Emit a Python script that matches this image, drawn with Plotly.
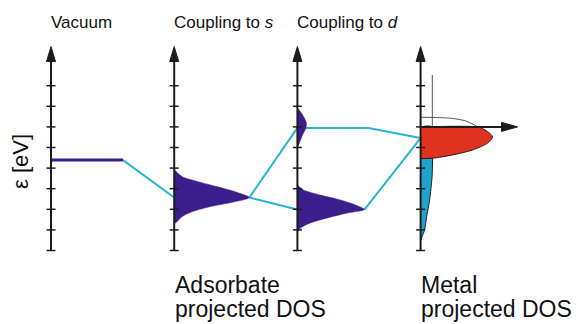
import numpy as np
import plotly.graph_objects as go

# ---------------- data (energies in tick units, DOS in panel-spacing units) ----------------
panel_labels = ["Vacuum", "Coupling to <i>s</i>", "Coupling to <i>d</i>"]
panel_x = [0, 1, 2, 3]
tick_energies = [0, 1, 2, 3, 4, 5, 6, 7, 8]
axis_top = 9.9

vacuum_level = 4.39
vacuum_line_len = 0.584

# adsorbate resonance after coupling to s (panel 1)
s_res_energy = [3.96, 3.81, 3.57, 3.33, 3.08, 2.84, 2.57, 2.35, 2.11, 1.87, 1.63, 1.38, 1.29]
s_res_dos = [0.0, 0.02, 0.07, 0.20, 0.36, 0.50, 0.61, 0.48, 0.28, 0.14, 0.06, 0.02, 0.0]

# coupling to d (panel 2): antibonding and bonding states
ab_energy = [6.92, 6.68, 6.43, 6.19, 5.95, 5.70, 5.46, 5.22, 4.98]
ab_dos = [0.0, 0.032, 0.057, 0.073, 0.069, 0.049, 0.032, 0.016, 0.0]
ab_level = 5.95
ab_line_kink = 0.576
b_energy = [3.18, 2.94, 2.69, 2.45, 2.21, 1.99, 1.82, 1.58, 1.34, 1.09, 0.90]
b_dos = [0.0, 0.049, 0.187, 0.349, 0.471, 0.544, 0.406, 0.244, 0.106, 0.024, 0.0]

# metal projected DOS (panel 3)
fermi_level = 6.0
fermi_arrow_len = 0.787
metal_link_energy = 5.46
d_band_energy = [6.47, 6.45, 6.41, 6.29, 6.09, 6.00, 5.90, 5.77, 5.52, 5.22, 4.88, 4.64, 4.48, 4.46]
d_band_dos = [0.0, 0.15, 0.26, 0.365, 0.438, 0.463, 0.511, 0.544, 0.584, 0.544, 0.422, 0.26, 0.097, 0.0]
s_band_energy = [8.52, 6.00, 4.47, 3.57, 2.45, 1.63, 1.00, 0.61, 0.48]
s_band_dos = [0.095, 0.095, 0.097, 0.093, 0.073, 0.049, 0.032, 0.008, 0.0]

# ---------------- styling / geometry ----------------
PX_U = 123.2   # pixels per panel unit
PX_E = 20.6    # pixels per energy unit
X0_PX = 51.0
Y0_PX = 250.5
W, H = 577, 324
x_range = [(0 - X0_PX) / PX_U, (W - X0_PX) / PX_U]
y_range = [(Y0_PX - H) / PX_E, Y0_PX / PX_E]

PURPLE = "#3b1d8c"
CYAN_LINE = "#27b4d4"
CYAN_FILL = "#1fa2cb"
RED = "#e0321f"
AX = "#1c1c1c"
FONT = "Liberation Sans, Arial, sans-serif"

fig = go.Figure()

# connection lines
s_tip_i = int(np.argmax(s_res_dos))
s_tip = (panel_x[1] + s_res_dos[s_tip_i], s_res_energy[s_tip_i])
b_tip_i = int(np.argmax(b_dos))
b_tip = (panel_x[2] + b_dos[b_tip_i], b_energy[b_tip_i])
segs = [
    [(panel_x[0] + vacuum_line_len, vacuum_level), (panel_x[1], s_res_energy[s_tip_i])],
    [s_tip, (panel_x[2], ab_level)],
    [s_tip, (panel_x[2], b_energy[b_tip_i])],
    [(panel_x[2], ab_level), (panel_x[2] + ab_line_kink, ab_level), (panel_x[3], metal_link_energy)],
    [b_tip, (panel_x[3], metal_link_energy)],
]
cx, cy = [], []
for s in segs:
    for p in s:
        cx.append(p[0]); cy.append(p[1])
    cx.append(None); cy.append(None)
fig.add_trace(go.Scatter(x=cx, y=cy, mode="lines", line=dict(color=CYAN_LINE, width=2),
                         hoverinfo="skip"))


def dos_fill(px, energy, dos, color, outline=None, ow=0):
    xs = [px + d for d in dos]
    ys = list(energy)
    if dos[0] != 0:
        xs = [px] + xs; ys = [energy[0]] + ys
    if dos[-1] != 0:
        xs = xs + [px]; ys = ys + [energy[-1]]
    fig.add_trace(go.Scatter(x=xs, y=ys, mode="lines", fill="toself", fillcolor=color,
                             line=dict(color=outline or color, width=ow if outline else 0.5,
                                       shape="spline", smoothing=0.8),
                             hoverinfo="skip"))


# adsorbate DOS
dos_fill(panel_x[1], s_res_energy, s_res_dos, PURPLE)
dos_fill(panel_x[2], ab_energy, ab_dos, PURPLE)
dos_fill(panel_x[2], b_energy, b_dos, PURPLE)

# metal s band: occupied part filled (below Fermi level)
sE = np.array(s_band_energy); sD = np.array(s_band_dos)
occ = sE <= fermi_level
dos_fill(panel_x[3], list(sE[occ]), list(sD[occ]), CYAN_FILL, outline="#222222", ow=1)
# unoccupied s band outline
unocc = sE >= fermi_level
fig.add_trace(go.Scatter(x=list(panel_x[3] + sD[unocc]), y=list(sE[unocc]), mode="lines",
                         line=dict(color="#555555", width=1), hoverinfo="skip"))

# metal d band
dE = np.array(d_band_energy); dD = np.array(d_band_dos)
docc = dE <= fermi_level
dos_fill(panel_x[3], [fermi_level] + list(dE[docc]), [0.0] + list(dD[docc]), RED,
         outline="#222222", ow=1)
dun = dE >= fermi_level
fig.add_trace(go.Scatter(x=list(panel_x[3] + dD[dun]), y=list(dE[dun]), mode="lines",
                         line=dict(color="#555555", width=1, shape="spline", smoothing=0.8),
                         hoverinfo="skip"))

# vacuum level
fig.add_trace(go.Scatter(x=[panel_x[0], panel_x[0] + vacuum_line_len], y=[vacuum_level, vacuum_level],
                         mode="lines", line=dict(color=PURPLE, width=3), hoverinfo="skip"))

# energy axes with ticks
ax_x, ax_y, tk_x, tk_y = [], [], [], []
tick_half = 4.5 / PX_U
for p in panel_x:
    ax_x += [p, p, None]; ax_y += [tick_energies[0], axis_top - 0.3, None]
    for e in tick_energies:
        tk_x += [p - tick_half, p + tick_half, None]; tk_y += [e, e, None]
fig.add_trace(go.Scatter(x=ax_x, y=ax_y, mode="lines", line=dict(color=AX, width=2), hoverinfo="skip"))
fig.add_trace(go.Scatter(x=tk_x, y=tk_y, mode="lines", line=dict(color=AX, width=1.5), hoverinfo="skip"))

# arrowheads
head_len, head_half = 15.0, 4.5
hx, hy = [], []
for p in panel_x:
    hx += [p, p - head_half / PX_U, p + head_half / PX_U, p, None]
    hy += [axis_top, axis_top - head_len / PX_E, axis_top - head_len / PX_E, axis_top, None]
fig.add_trace(go.Scatter(x=hx, y=hy, mode="lines", fill="toself", fillcolor=AX,
                         line=dict(color=AX, width=1), hoverinfo="skip"))

# Fermi level arrow
fx_end = panel_x[3] + fermi_arrow_len
fig.add_trace(go.Scatter(x=[panel_x[3], fx_end - 10 / PX_U], y=[fermi_level, fermi_level], mode="lines",
                         line=dict(color=AX, width=2), hoverinfo="skip"))
fig.add_trace(go.Scatter(x=[fx_end, fx_end - 16 / PX_U, fx_end - 16 / PX_U, fx_end],
                         y=[fermi_level, fermi_level + 4.5 / PX_E, fermi_level - 4.5 / PX_E, fermi_level],
                         mode="lines", fill="toself", fillcolor=AX, line=dict(color=AX, width=1),
                         hoverinfo="skip"))

# ---------------- text ----------------
ann = []
for p, lab in zip(panel_x, panel_labels):
    ann.append(dict(x=p - 0.02, y=(Y0_PX - 22) / PX_E, text=lab, showarrow=False, xanchor="left",
                    yanchor="middle", font=dict(size=17, color="#111111", family=FONT)))
ann.append(dict(x=(20 - X0_PX) / PX_U, y=(Y0_PX - 162) / PX_E, text="ε [eV]", textangle=-90,
                showarrow=False, font=dict(size=22, color="#111111", family=FONT)))
for p, l1 in [(panel_x[1], "Adsorbate"), (panel_x[3], "Metal")]:
    ann.append(dict(x=p - 0.01, y=(Y0_PX - 285) / PX_E, text=l1, showarrow=False, xanchor="left",
                    yanchor="middle", font=dict(size=23, color="#111111", family=FONT)))
    ann.append(dict(x=p - 0.01, y=(Y0_PX - 309) / PX_E, text="projected DOS", showarrow=False,
                    xanchor="left", yanchor="middle", font=dict(size=23, color="#111111", family=FONT)))

fig.update_layout(
    width=W, height=H, autosize=False,
    margin=dict(l=0, r=0, t=0, b=0),
    paper_bgcolor="white", plot_bgcolor="white",
    showlegend=False,
    xaxis=dict(range=x_range, visible=False, fixedrange=True),
    yaxis=dict(range=y_range, visible=False, fixedrange=True),
    annotations=ann,
)
fig.write_html("out.html")
